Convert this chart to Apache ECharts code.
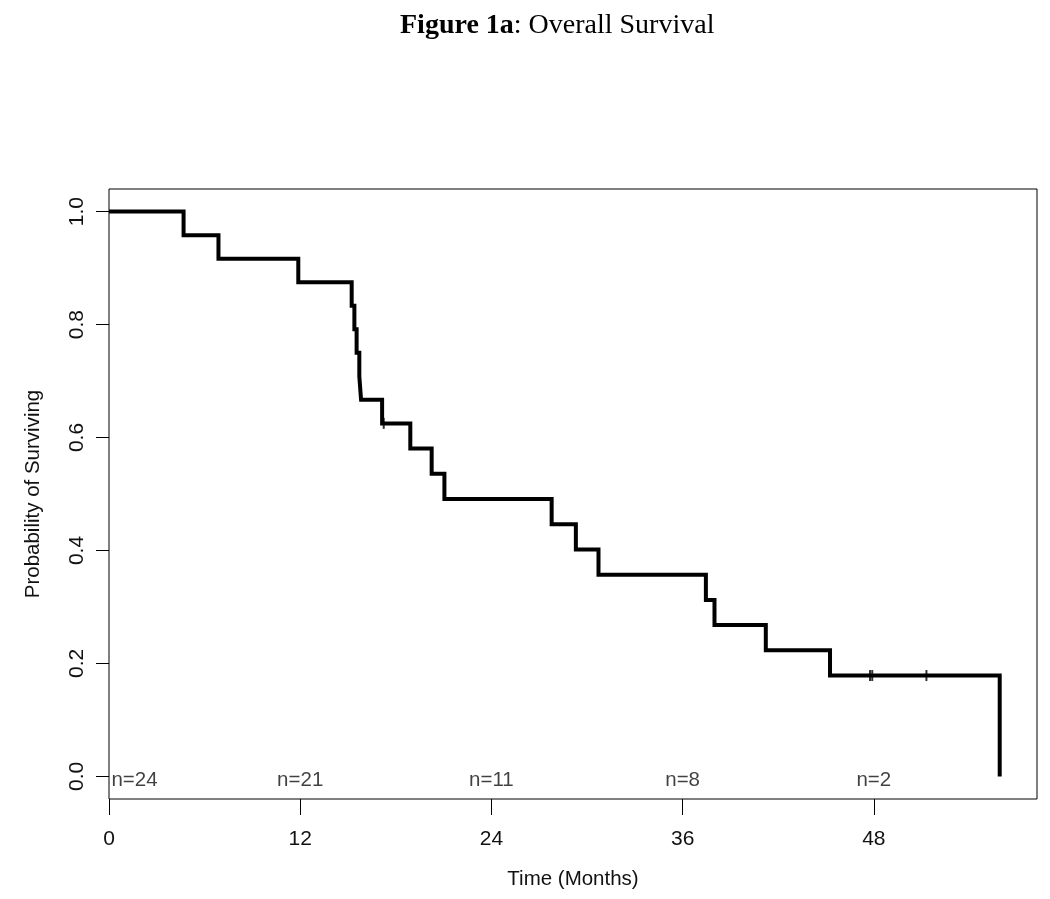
<!DOCTYPE html>
<html>
<head>
<meta charset="utf-8">
<script src="https://cdn.jsdelivr.net/npm/echarts@6/dist/echarts.min.js"></script>
<style>html,body{margin:0;padding:0;background:#fff}#c{width:1050px;height:899px}</style>
</head>
<body>
<div id="c"></div>
<script>
// Kaplan-Meier step curve: event times (months) and survival after each step
const stepTimes = [0, 4.68, 6.87, 11.88, 15.23, 15.40, 15.54, 15.71, 15.82, 17.14, 18.91, 20.25, 21.05, 27.78, 29.30, 30.72, 37.46, 38.00, 41.22, 45.25, 55.90];
const survival  = [1.0, 0.9583, 0.9167, 0.875, 0.8333, 0.7917, 0.75, 0.7083, 0.6667, 0.625, 0.5804, 0.5357, 0.4911, 0.4464, 0.4018, 0.3571, 0.3125, 0.2679, 0.2232, 0.1786, 0.0];
// censored observations
const censorTimes = [17.24, 47.76, 47.90, 51.30];
const censorSurv  = [0.625, 0.1786, 0.1786, 0.1786];
// numbers at risk
const riskTimes  = [1.6, 12, 24, 36, 48];
const riskLabels = ['n=24', 'n=21', 'n=11', 'n=8', 'n=2'];
// tick values
const xTicks = [0, 12, 24, 36, 48];
const yTicks = [0, 0.2, 0.4, 0.6, 0.8, 1.0];

const curve = stepTimes.map((t, i) => [t, survival[i]]);
const censors = censorTimes.map((t, i) => [t, censorSurv[i]]);
const risk = riskTimes.map((t, i) => ({ value: [t, 0], name: riskLabels[i] }));

const font = 'Liberation Sans, Arial, sans-serif';
const serif = 'Liberation Serif, Times New Roman, serif';
const txt = '#111';
const chart = echarts.init(document.getElementById('c'), null, { renderer: 'canvas' });
chart.setOption({
  animation: false,
  backgroundColor: '#fff',
  title: {
    text: '{b|Figure 1a}{r|: Overall Survival}',
    left: 395, top: 7,
    textStyle: {
      fontWeight: 'normal',
      rich: {
        b: { fontFamily: serif, fontWeight: 'bold', fontSize: 28, color: '#000' },
        r: { fontFamily: serif, fontWeight: 'normal', fontSize: 28, color: '#000' }
      }
    }
  },
  grid: { left: 109, right: 13, top: 189, bottom: 100, show: true, borderColor: '#000', borderWidth: 1, backgroundColor: 'transparent' },
  xAxis: {
    type: 'value', min: 0, max: 58.24,
    name: 'Time (Months)', nameLocation: 'middle', nameGap: 70,
    nameTextStyle: { fontFamily: font, fontSize: 20.5, color: txt },
    axisLine: { show: false, onZero: false },
    splitLine: { show: false },
    axisTick: { show: true, inside: false, length: 16, lineStyle: { color: '#000', width: 1 }, customValues: xTicks },
    axisLabel: { fontFamily: font, fontSize: 21, color: txt, margin: 30, customValues: xTicks }
  },
  yAxis: {
    type: 'value', min: -0.04, max: 1.04,
    name: 'Probability of Surviving', nameLocation: 'middle', nameGap: 65,
    nameTextStyle: { fontFamily: font, fontSize: 20.5, color: txt },
    axisLine: { show: false, onZero: false },
    splitLine: { show: false },
    axisTick: { show: true, inside: false, length: 13, lineStyle: { color: '#000', width: 1 }, customValues: yTicks },
    axisLabel: { fontFamily: font, fontSize: 21, color: txt, margin: 21, rotate: 90,
      formatter: v => v.toFixed(1), customValues: yTicks }
  },
  series: [
    {
      type: 'line', step: 'end', data: curve, symbol: 'none',
      lineStyle: { color: '#000', width: 4, join: 'miter' }, z: 3
    },
    {
      type: 'scatter', data: censors, symbol: 'rect', symbolSize: [2, 11],
      itemStyle: { color: '#000' }, z: 4
    },
    {
      type: 'scatter', data: risk, symbolSize: 0,
      label: { show: true, position: 'inside', offset: [0, 4], formatter: p => p.name, fontFamily: font, fontSize: 20.5, color: txt },
      z: 5
    }
  ]
});
</script>
</body>
</html>
